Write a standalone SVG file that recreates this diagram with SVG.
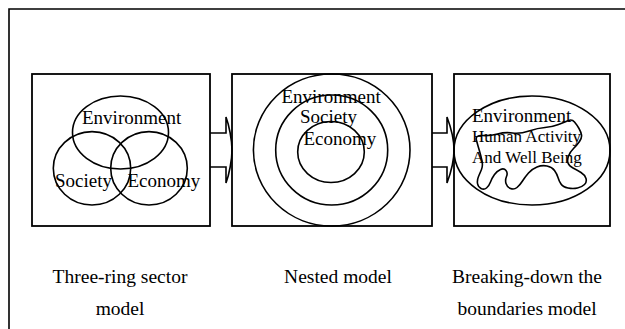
<svg xmlns="http://www.w3.org/2000/svg" width="625" height="329" viewBox="0 0 625 329">
<style>
.ln{fill:none;stroke:#000;stroke-width:1.6}
.box{fill:none;stroke:#000;stroke-width:1.8}
.arr{fill:#fff;stroke:#000;stroke-width:1.6;stroke-linejoin:miter}
text{font-family:"Liberation Serif","Times New Roman",serif;fill:#000}
.t{font-size:19px}
.s{font-size:17px}
.lbl{font-size:19.5px;text-anchor:middle}
</style>
<rect width="625" height="329" fill="#fff"/>
<path d="M9,329 V9 H625" fill="none" stroke="#000" stroke-width="1.6"/>
<g id="connectors">
<path class="arr" d="M210,133 H226 V117 C229,125 232,140 232,150 C232,160 229,175 226,183 V167 H210"/>
<path class="arr" d="M432,133 H447 V117 C450,125 454,140 454,150 C454,160 450,175 447,183 V167 H432"/>
</g>
<g id="three-ring">
<rect class="box" x="32" y="74" width="178" height="152"/>
<ellipse class="ln" cx="120.5" cy="132.5" rx="48" ry="36.5"/>
<ellipse class="ln" cx="92" cy="168.3" rx="38.7" ry="36.7"/>
<ellipse class="ln" cx="149" cy="168.3" rx="38.3" ry="36.7"/>
<text class="t" x="82" y="123.5">Environment</text>
<text class="t" x="55" y="187">Society</text>
<text class="t" x="127.5" y="187">Economy</text>
<text class="lbl" x="120" y="283">Three-ring sector</text>
<text class="lbl" x="120" y="315">model</text>
</g>
<g id="nested">
<rect class="box" x="232" y="74" width="200" height="152"/>
<ellipse class="ln" cx="331.7" cy="150" rx="78.3" ry="76"/>
<ellipse class="ln" cx="331.7" cy="150" rx="56" ry="55"/>
<ellipse class="ln" cx="331" cy="152" rx="33.3" ry="30.5"/>
<text class="t" x="281.5" y="102.5">Environment</text>
<text class="t" x="300" y="122.5">Society</text>
<text class="t" x="303.5" y="144.5">Economy</text>
<text class="lbl" x="338" y="283">Nested model</text>
</g>
<g id="boundaries">
<rect class="box" x="454" y="74" width="156" height="152"/>
<ellipse class="ln" cx="532" cy="150.5" rx="78" ry="54.5"/>
<path class="ln" d="M476.5,140.5 Q475,135 482.5,135.5 Q490,136 497.5,134 Q505,132 512.5,133 Q520,134 529,131 Q538,128 545,127.5 Q552,127 558.5,124.5 Q565,122 568.5,120.5 Q572,119 574.5,122 Q577,125 579,128.5 Q581,132 581.5,135 Q582,138 579.5,141.5 Q577,145 573.5,148.5 Q570,152 568.5,156 Q567,160 568,163 Q569,166 573,168 Q577,170 581,172.5 Q585,175 586,178.5 Q587,182 584.5,184.5 Q582,187 577.5,188 Q573,189 568,188 Q563,187 561,184 Q559,181 558,177.5 Q557,174 554.5,170.5 Q552,167 547,166 Q542,165 537,167 Q532,169 528.5,173 Q525,177 522.5,181 Q520,185 517,187.5 Q514,190 510.5,188.5 Q507,187 506,183.5 Q505,180 506.5,176.5 Q508,173 506,170.5 Q504,168 500.5,169.5 Q497,171 494.5,174.5 Q492,178 490.5,182 Q489,186 486.5,188 Q484,190 481,188.5 Q478,187 477.5,183.5 Q477,180 478.5,176.5 Q480,173 481.5,169.5 Q483,166 482,161 Q481,156 479.5,151 Q478,146 476.5,140.5 Z"/>
<text class="t" x="472" y="122">Environment</text>
<text class="s" x="472" y="142">Human Activity</text>
<text class="s" x="472" y="163">And Well Being</text>
<text class="lbl" x="527" y="283">Breaking-down the</text>
<text class="lbl" x="527" y="315">boundaries model</text>
</g>
</svg>
